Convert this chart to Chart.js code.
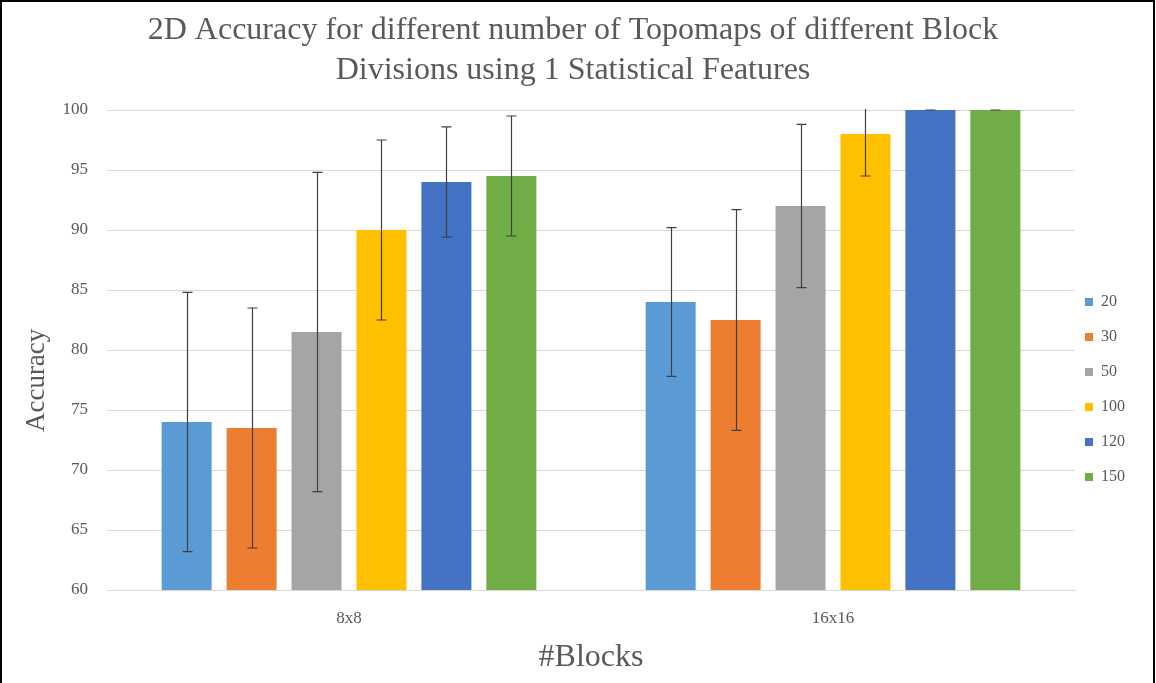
<!DOCTYPE html>
<html>
<head>
<meta charset="utf-8">
<script src="https://cdn.jsdelivr.net/npm/chart.js@4.4.0/dist/chart.umd.min.js"></script>
<style>
  body { margin: 0; background: #ffffff; }
  #wrap { position: relative; width: 1156px; height: 683px; }
</style>
</head>
<body>
<div id="wrap"><canvas id="myChart" width="1156" height="683"></canvas></div>
<script>
// categories on the x axis
const blocos = ['8x8', '16x16'];

// number of topomaps (one series each)
const series = ['20', '30', '50', '100', '120', '150'];

// mean accuracy per series, [8x8, 16x16]
const acc20 = [74, 84];
const acc30 = [73.5, 82.5];
const acc50 = [81.5, 92];
const acc100 = [90, 98];
const acc120 = [94, 100];
const acc150 = [94.5, 100];

// error (+/-) per series, [8x8, 16x16]
const err20 = [10.8, 6.2];
const err30 = [10, 9.2];
const err50 = [13.3, 6.8];
const err100 = [7.5, 3.5];
const err120 = [4.6, 0];
const err150 = [5, 0];

const yTicks = [60, 65, 70, 75, 80, 85, 90, 95, 100];

const cores = ['#5B9BD5', '#ED7D31', '#A5A5A5', '#FFC000', '#4472C4', '#70AD47'];
const valores = [acc20, acc30, acc50, acc100, acc120, acc150];
const erros = [err20, err30, err50, err100, err120, err150];

const fonte = "'Liberation Serif', 'Times New Roman', serif";
const cinza = '#595959';

// draws the error bars from the y scale
const errorBars = {
  id: 'errorBars',
  afterDatasetsDraw(chart) {
    const ctx = chart.ctx;
    const y = chart.scales.y;
    const area = chart.chartArea;
    ctx.save();
    ctx.beginPath();
    ctx.rect(area.left, area.top - 1, area.right - area.left, area.bottom - area.top + 2);
    ctx.clip();
    ctx.strokeStyle = '#404040';
    ctx.lineWidth = 1.2;
    chart.data.datasets.forEach(function (ds, i) {
      const meta = chart.getDatasetMeta(i);
      meta.data.forEach(function (bar, j) {
        const v = ds.data[j];
        const e = ds.erro[j];
        const yTop = y.getPixelForValue(v + e);
        const yBot = y.getPixelForValue(v - e);
        const x = Math.round(bar.x) + 0.5;
        ctx.beginPath();
        ctx.moveTo(x, yTop);
        ctx.lineTo(x, yBot);
        ctx.moveTo(x - 5, yTop);
        ctx.lineTo(x + 5, yTop);
        ctx.moveTo(x - 5, yBot);
        ctx.lineTo(x + 5, yBot);
        ctx.stroke();
      });
    });
    ctx.restore();
  }
};

// legend sits a bit lower and closer to the plot, like in excel
const ajusteLegenda = {
  id: 'ajusteLegenda',
  afterLayout(chart) {
    const l = chart.legend;
    l.left -= 9;
    l.right -= 9;
    l.top += 48;
    l.bottom += 48;
  }
};

// black frame around the picture
const moldura = {
  id: 'moldura',
  afterDraw(chart) {
    const ctx = chart.ctx;
    ctx.save();
    ctx.strokeStyle = '#000000';
    ctx.lineWidth = 2;
    ctx.beginPath();
    ctx.moveTo(1, 683);
    ctx.lineTo(1, 1);
    ctx.lineTo(1154, 1);
    ctx.lineTo(1154, 683);
    ctx.stroke();
    ctx.restore();
  }
};

let dados = {
  labels: blocos,
  datasets: []
};

for (let i = 0; i < series.length; i++) {
  dados.datasets.push({
    label: series[i],
    data: valores[i],
    erro: erros[i],
    backgroundColor: cores[i],
    borderWidth: 0,
    barPercentage: 0.77,
    categoryPercentage: 0.805
  });
}

const config = {
  type: 'bar',
  data: dados,
  plugins: [errorBars, ajusteLegenda, moldura],
  options: {
    responsive: false,
    animation: false,
    layout: { padding: { left: 2, right: 12, top: 0, bottom: 0 } },
    plugins: {
      title: {
        display: true,
        text: ['2D Accuracy for different number of Topomaps of different Block', 'Divisions using 1 Statistical Features'],
        color: cinza,
        font: { family: fonte, size: 32, weight: 'normal', lineHeight: 1.25 },
        padding: { top: 11, bottom: 19 }
      },
      legend: {
        position: 'right',
        labels: {
          color: cinza,
          boxWidth: 8,
          boxHeight: 8,
          padding: 19,
          font: { family: fonte, size: 16 }
        }
      },
      tooltip: { enabled: false }
    },
    scales: {
      x: {
        grid: { display: false },
        border: { color: '#d9d9d9' },
        ticks: { color: cinza, padding: 10, font: { family: fonte, size: 17 } },
        title: {
          display: true,
          text: '#Blocks',
          color: cinza,
          font: { family: fonte, size: 32 },
          padding: { top: 6, bottom: 6 }
        },
        afterFit: function (scale) { scale.height = 93; }
      },
      y: {
        min: 60,
        max: 100,
        afterBuildTicks: function (scale) {
          scale.ticks = yTicks.map(function (v) { return { value: v }; });
        },
        grid: { color: '#d9d9d9', drawTicks: false },
        border: { display: false },
        ticks: { color: cinza, padding: 19, font: { family: fonte, size: 17 } },
        title: {
          display: true,
          text: 'Accuracy         ',
          color: cinza,
          font: { family: fonte, size: 27 },
          padding: { top: 19, bottom: 10 }
        },
        afterFit: function (scale) { scale.width = 105; }
      }
    }
  }
};

myChart = new Chart(document.getElementById('myChart'), config);
</script>
</body>
</html>
